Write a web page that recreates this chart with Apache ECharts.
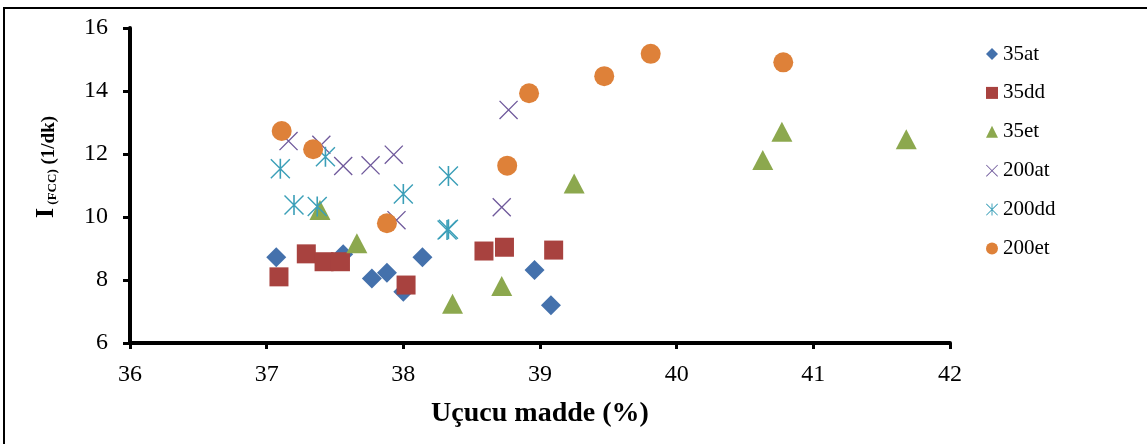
<!DOCTYPE html>
<html>
<head>
<meta charset="utf-8">
<script src="https://cdn.jsdelivr.net/npm/echarts@6/dist/echarts.min.js"></script>
<style>
  html, body { margin: 0; padding: 0; background: #fff; }
  #chart { width: 1147px; height: 444px; }
</style>
</head>
<body>
<div id="chart"></div>
<script>
// Volatile matter (%) vs. I(FCC) (1/dk) for six sample groups
const xTicks = [36, 37, 38, 39, 40, 41, 42];
const yTicks = [6, 8, 10, 12, 14, 16];

const seriesNames = ['35at', '35dd', '35et', '200at', '200dd', '200et'];

const d35at = [
  [37.07, 8.72], [37.56, 8.82], [37.77, 8.05], [37.88, 8.23],
  [38.00, 7.63], [38.14, 8.72], [38.96, 8.32], [39.08, 7.20]
];
const d35dd = [
  [37.09, 8.10], [37.29, 8.83], [37.42, 8.58], [37.54, 8.58],
  [38.02, 7.84], [38.59, 8.92], [38.74, 9.04], [39.10, 8.95]
];
const d35et = [
  [37.39, 10.22], [37.66, 9.17], [38.36, 7.25], [38.72, 7.81],
  [39.25, 11.06], [40.63, 11.81], [40.77, 12.71], [41.68, 12.47]
];
const d200at = [
  [37.16, 12.41], [37.40, 12.29], [37.56, 11.62], [37.76, 11.64],
  [37.93, 11.98], [37.95, 9.90], [38.77, 13.40], [38.72, 10.31]
];
const d200dd = [
  [37.10, 11.53], [37.20, 10.38], [37.37, 10.33], [37.43, 11.91],
  [38.00, 10.73], [38.33, 11.30], [38.32, 9.59], [38.33, 9.61]
];
const d200et = [
  [37.11, 12.73], [37.34, 12.15], [37.88, 9.80], [38.76, 11.63],
  [38.92, 13.93], [39.47, 14.47], [39.81, 15.18], [40.78, 14.91]
];

const colors = ['#4471ac', '#a8423f', '#8ca84e', '#705a9c', '#3b9fb8', '#de8139'];

// thin "x" and asterisk markers, drawn as filled outlines
const crossPath = 'path://M5,0L100,95L95,100L0,5ZM95,0L100,5L5,100L0,95Z';
const starPath = 'path://M5,0L100,95L95,100L0,5ZM95,0L100,5L5,100L0,95ZM46,0L54,0L54,100L46,100Z';

const symbols = ['diamond', 'rect', 'triangle', crossPath, starPath, 'circle'];
const sizes = [20, 19, [21, 20], 19, 20, 20];
const dataSets = [d35at, d35dd, d35et, d200at, d200dd, d200et];

const serif = '"Liberation Serif", "Times New Roman", serif';

const chart = echarts.init(document.getElementById('chart'), null, { renderer: 'canvas' });

chart.setOption({
  animation: false,
  backgroundColor: '#ffffff',
  grid: { left: 130, right: 197, top: 28, bottom: 101, containLabel: false },
  xAxis: {
    type: 'value',
    min: xTicks[0], max: xTicks[xTicks.length - 1], interval: 1,
    name: 'Uçucu madde (%)',
    nameLocation: 'middle',
    nameGap: 57,
    nameTextStyle: { fontFamily: serif, fontWeight: 'bold', fontSize: 28, color: '#000' },
    axisLine: { onZero: false, lineStyle: { color: '#000', width: 4 } },
    axisTick: { show: true, inside: false, length: 6, lineStyle: { color: '#000', width: 3 } },
    axisLabel: { fontFamily: serif, fontSize: 24, color: '#000', margin: 20 },
    splitLine: { show: false }
  },
  yAxis: {
    type: 'value',
    min: yTicks[0], max: yTicks[yTicks.length - 1], interval: 2,
    axisLine: { show: true, onZero: false, lineStyle: { color: '#000', width: 4 } },
    axisTick: { show: true, inside: false, length: 7, lineStyle: { color: '#000', width: 3 } },
    axisLabel: { fontFamily: serif, fontSize: 24, color: '#000', margin: 22 },
    splitLine: { show: false }
  },
  legend: {
    orient: 'vertical',
    left: 986,
    top: 43,
    padding: 0,
    itemWidth: 12,
    itemHeight: 12,
    itemGap: 16.9,
    textStyle: { fontFamily: serif, fontSize: 21, color: '#000', lineHeight: 22 },
    data: seriesNames.map((n, i) => ({ name: n, icon: symbols[i] }))
  },
  graphic: [
    {
      type: 'rect',
      shape: { x: 4, y: 8, width: 1200, height: 500 },
      style: { fill: 'none', stroke: '#000', lineWidth: 2 },
      silent: true, z: 0
    },
    {
      type: 'text',
      x: 46, y: 167,
      rotation: Math.PI / 2,
      style: {
        text: '{a|I}{b| (FCC)}{c| (1/dk)}',
        align: 'center',
        verticalAlign: 'middle',
        rich: {
          a: { fontFamily: serif, fontWeight: 'bold', fontSize: 26, fill: '#000', verticalAlign: 'bottom' },
          b: { fontFamily: serif, fontWeight: 'bold', fontSize: 13, fill: '#000', verticalAlign: 'bottom' },
          c: { fontFamily: serif, fontWeight: 'bold', fontSize: 19, fill: '#000', verticalAlign: 'bottom' }
        }
      },
      z: 10
    }
  ],
  series: seriesNames.map((n, i) => ({
    name: n,
    type: 'scatter',
    data: dataSets[i],
    symbol: symbols[i],
    symbolSize: sizes[i],
    itemStyle: { color: colors[i], opacity: 1 },
    z: 2 + i
  }))
});
</script>
</body>
</html>
